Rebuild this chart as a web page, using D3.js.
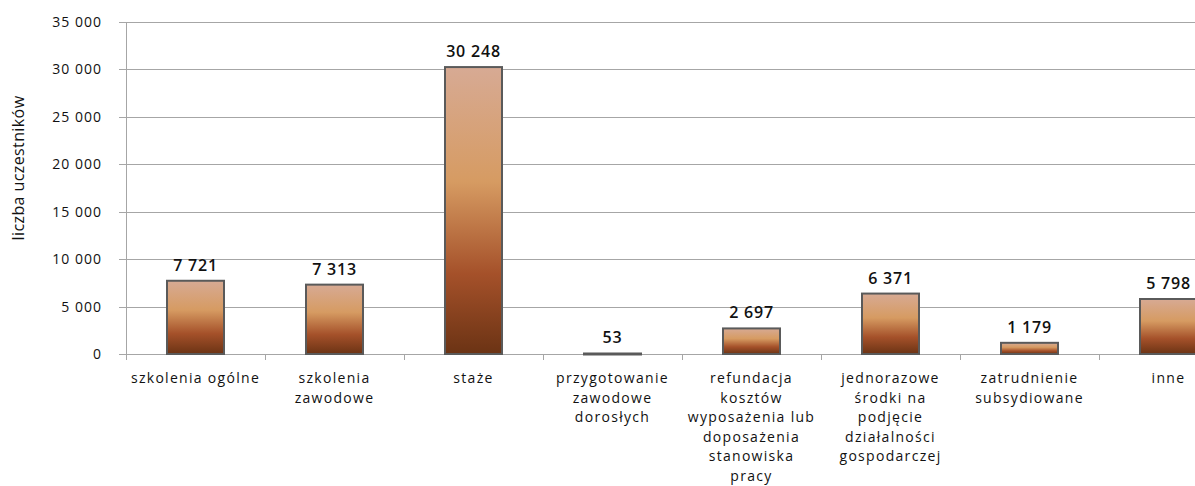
<!DOCTYPE html>
<html>
<head>
<meta charset="utf-8">
<script src="https://cdn.jsdelivr.net/npm/d3@7"></script>
<style>
  body { margin: 0; background: #fff; }
  text { font-family: "Open Sans", sans-serif; }
</style>
</head>
<body>
<script>
// category labels, with the line breaks as in the picture
var categories = [
  "szkolenia ogólne",
  "szkolenia\nzawodowe",
  "staże",
  "przygotowanie\nzawodowe\ndorosłych",
  "refundacja\nkosztów\nwyposażenia lub\ndoposażenia\nstanowiska\npracy",
  "jednorazowe\nśrodki na\npodjęcie\ndziałalności\ngospodarczej",
  "zatrudnienie\nsubsydiowane",
  "inne"
];
var values = [7721, 7313, 30248, 53, 2697, 6371, 1179, 5798];
var yTicks = [0, 5000, 10000, 15000, 20000, 25000, 30000, 35000];
var yTitle = "liczba uczestników";

var width = 1195, height = 486;
var plotLeft = 126, plotTop = 22, plotBottom = 354;
var bandW = 139;

function fmt(v) {
  return d3.format(",")(v).replace(/,/g, " ");
}

var svg = d3.select("body")
            .append("svg")
            .attr("width", width)
            .attr("height", height);

var defs = svg.append("defs");
var grad = defs.append("linearGradient")
               .attr("id", "barGrad")
               .attr("x1", 0).attr("y1", 0)
               .attr("x2", 0).attr("y2", 1);
grad.append("stop").attr("offset", "0%").attr("stop-color", "#d7aa94");
grad.append("stop").attr("offset", "40%").attr("stop-color", "#d69b62");
grad.append("stop").attr("offset", "72%").attr("stop-color", "#a5512a");
grad.append("stop").attr("offset", "100%").attr("stop-color", "#6b3314");

var x = d3.scaleBand()
          .domain(d3.range(categories.length))
          .range([plotLeft, plotLeft + bandW * categories.length]);

var y = d3.scaleLinear()
          .domain([0, 35000])
          .range([plotBottom, plotTop]);

// gridlines
svg.append("g")
   .selectAll("line")
   .data(yTicks)
   .enter()
     .append("line")
     .attr("x1", plotLeft - 7)
     .attr("x2", width)
     .attr("y1", function(d) { return Math.round(y(d)) + 0.5; })
     .attr("y2", function(d) { return Math.round(y(d)) + 0.5; })
     .attr("stroke", "#a6a6a6")
     .attr("stroke-width", 1);

// y tick labels
svg.append("g")
   .selectAll("text")
   .data(yTicks)
   .enter()
     .append("text")
     .attr("x", 102)
     .attr("y", function(d) { return y(d) + 5; })
     .attr("text-anchor", "end")
     .attr("font-size", 14)
     .attr("letter-spacing", 1)
     .attr("fill", "#111")
     .text(fmt);

// y axis line
svg.append("line")
   .attr("x1", plotLeft + 0.5).attr("x2", plotLeft + 0.5)
   .attr("y1", plotTop).attr("y2", plotBottom + 6)
   .attr("stroke", "#a6a6a6");

// category tick marks
svg.append("g")
   .selectAll("line")
   .data(d3.range(1, categories.length + 1))
   .enter()
     .append("line")
     .attr("x1", function(i) { return plotLeft + i * bandW + 0.5; })
     .attr("x2", function(i) { return plotLeft + i * bandW + 0.5; })
     .attr("y1", plotBottom)
     .attr("y2", plotBottom + 6)
     .attr("stroke", "#a6a6a6");

// bars
var barW = 57;
svg.append("g")
   .selectAll("rect")
   .data(values)
   .enter()
     .append("rect")
     .attr("x", function(d, i) { return x(i) + (bandW - barW) / 2; })
     .attr("y", function(d) { return y(d); })
     .attr("width", barW)
     .attr("height", function(d) { return Math.max(plotBottom - y(d), 1); })
     .attr("fill", "url(#barGrad)")
     .attr("stroke", "#5a5a5a")
     .attr("stroke-width", 2);

// value labels
svg.append("g")
   .selectAll("text")
   .data(values)
   .enter()
     .append("text")
     .attr("x", function(d, i) { return x(i) + bandW / 2; })
     .attr("y", function(d) { return y(d) - 10; })
     .attr("text-anchor", "middle")
     .attr("font-size", 16)
     .attr("font-weight", 600)
     .attr("letter-spacing", 0.8)
     .attr("fill", "#111")
     .text(fmt);

// category labels
var cat = svg.append("g")
   .selectAll("text")
   .data(categories)
   .enter()
     .append("text")
     .attr("x", function(d, i) { return x(i) + bandW / 2; })
     .attr("y", 383)
     .attr("text-anchor", "middle")
     .attr("font-size", 14)
     .attr("letter-spacing", 1.3)
     .attr("fill", "#111");

cat.selectAll("tspan")
   .data(function(d, i) { return d.split("\n").map(function(s) { return { s: s, cx: x(i) + bandW / 2 }; }); })
   .enter()
     .append("tspan")
     .attr("x", function(d) { return d.cx; })
     .attr("dy", function(d, j) { return j === 0 ? 0 : 19.5; })
     .text(function(d) { return d.s; });

// y axis title
svg.append("text")
   .attr("transform", "translate(24,168) rotate(-90)")
   .attr("text-anchor", "middle")
   .attr("font-size", 16)
   .attr("letter-spacing", 0.4)
   .attr("fill", "#111")
   .text(yTitle);
</script>
</body>
</html>
